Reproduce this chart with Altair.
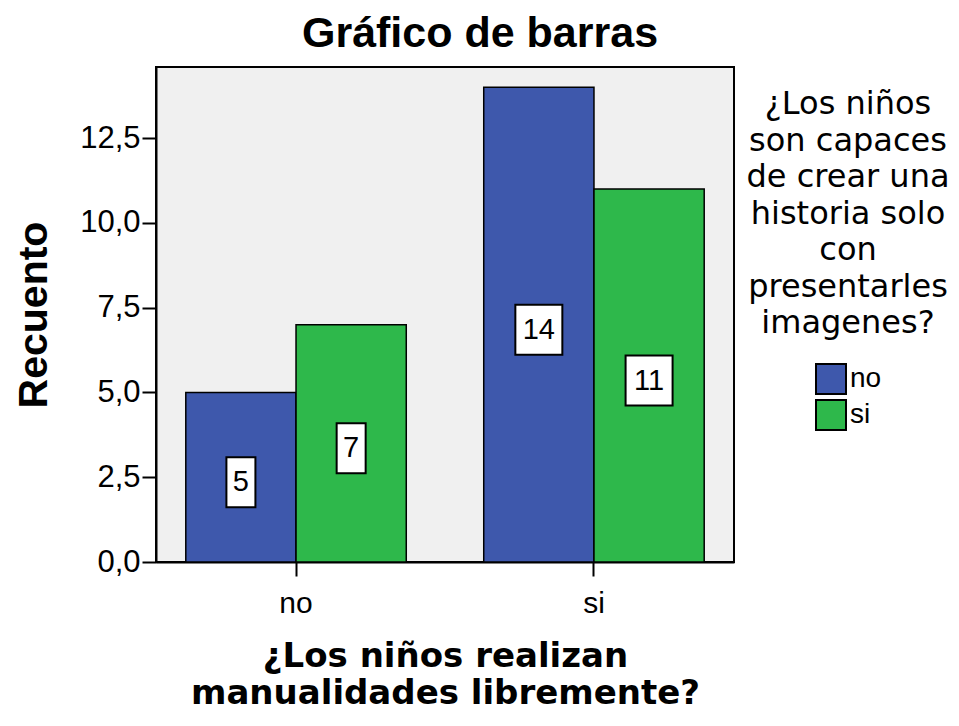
import altair as alt
import pandas as pd

# ---- data ----
groups = ["no", "no", "si", "si"]          # ¿Los niños realizan manualidades libremente?
series = ["no", "si", "no", "si"]          # ¿Los niños son capaces de crear una historia...?
counts = [5, 7, 14, 11]
series_domain = ["no", "si"]
series_colors = ["#3E58AC", "#2EB84B"]
y_ticks = [0, 2.5, 5, 7.5, 10, 12.5]
chart_title = "Gráfico de barras"
y_title = "Recuento"
x_title = ["¿Los niños realizan", "manualidades libremente?"]
legend_title = ["¿Los niños", "son capaces", "de crear una", "historia solo",
                "con", "presentarles", "imagenes?"]

df = pd.DataFrame({"grupo": groups, "serie": series, "n": counts})

x_enc = alt.X(
    "grupo:N",
    scale=alt.Scale(paddingInner=0.26, paddingOuter=0.1),
    axis=alt.Axis(
        title=x_title, labelAngle=0, labelFont="Liberation Sans", labelFontSize=30,
        labelColor="black", tickSize=14, tickWidth=2, tickColor="black",
        domainWidth=2, domainColor="black", labelPadding=12,
        titleFont="DejaVu Sans", titleFontSize=34, titleFontWeight="bold",
        titleLineHeight=37, titlePadding=21, titleColor="black", grid=False,
    ),
)
xo_enc = alt.XOffset("serie:N", scale=alt.Scale(domain=series_domain, paddingInner=0, paddingOuter=0))
y_enc = alt.Y(
    "n:Q",
    scale=alt.Scale(domain=[0, 14.6], nice=False),
    axis=alt.Axis(
        title=y_title, values=y_ticks,
        labelExpr="replace(format(datum.value, '.1f'), '.', ',')",
        labelFont="Liberation Sans", labelFontSize=31, labelColor="black",
        tickSize=14, tickWidth=2, tickColor="black", domainWidth=2, domainColor="black",
        labelPadding=2, titleFont="Liberation Sans", titleFontSize=41,
        titleFontWeight="bold", titlePadding=24, titleColor="black", grid=False,
    ),
)

bars = alt.Chart(df).mark_bar(stroke="black", strokeWidth=1.5).encode(
    x=x_enc,
    xOffset=xo_enc,
    y=y_enc,
    color=alt.Color(
        "serie:N",
        scale=alt.Scale(domain=series_domain, range=series_colors),
        legend=alt.Legend(
            title=legend_title, orient="none", legendX=590, legendY=22,
            titleFont="DejaVu Sans", titleFontSize=32, titleFontWeight="normal",
            titleLineHeight=36.5, titleAlign="center", titleAnchor="middle",
            titleLimit=400, titleColor="black", titlePadding=23,
            labelFont="Liberation Sans", labelFontSize=28, labelColor="black",
            labelOffset=3, symbolType="square", symbolSize=900,
            symbolStrokeColor="black", symbolStrokeWidth=2, symbolOffset=0,
            rowPadding=-2,
        ),
    ),
)

labelled = alt.Chart(df).transform_calculate(
    mid="datum.n / 2",
    shp="length(toString(datum.n)) > 1 ? 'M-0.94,-1L0.94,-1L0.94,1L-0.94,1Z' : 'M-0.58,-1L0.58,-1L0.58,1L-0.58,1Z'",
)

boxes = labelled.mark_point(
    filled=True, fill="white", stroke="black", strokeWidth=2, size=2500, opacity=1,
    yOffset=5,
).encode(
    x=alt.X("grupo:N"),
    xOffset=alt.XOffset("serie:N"),
    y=alt.Y("mid:Q"),
    shape=alt.Shape("shp:N", scale=None),
)

texts = labelled.mark_text(
    font="Liberation Sans", fontSize=29, color="black", baseline="middle", align="center",
    dy=5,
).encode(
    x=alt.X("grupo:N"),
    xOffset=alt.XOffset("serie:N"),
    y=alt.Y("mid:Q"),
    text=alt.Text("n:Q"),
)

chart = (
    alt.layer(bars, boxes, texts)
    .properties(
        width=578,
        height=495,
        autosize=alt.AutoSizeParams(type="none"),
        padding={"left": 148, "top": 59, "right": 217, "bottom": 150},
        title=alt.TitleParams(
            chart_title, font="Liberation Sans", fontSize=43, fontWeight="bold",
            anchor="middle", dx=35, offset=11, color="black",
        ),
    )
    .configure_view(fill="#F0F0F0", stroke="black", strokeWidth=2)
)

chart.save("out.html", embed_options={"renderer": "svg", "actions": False})
